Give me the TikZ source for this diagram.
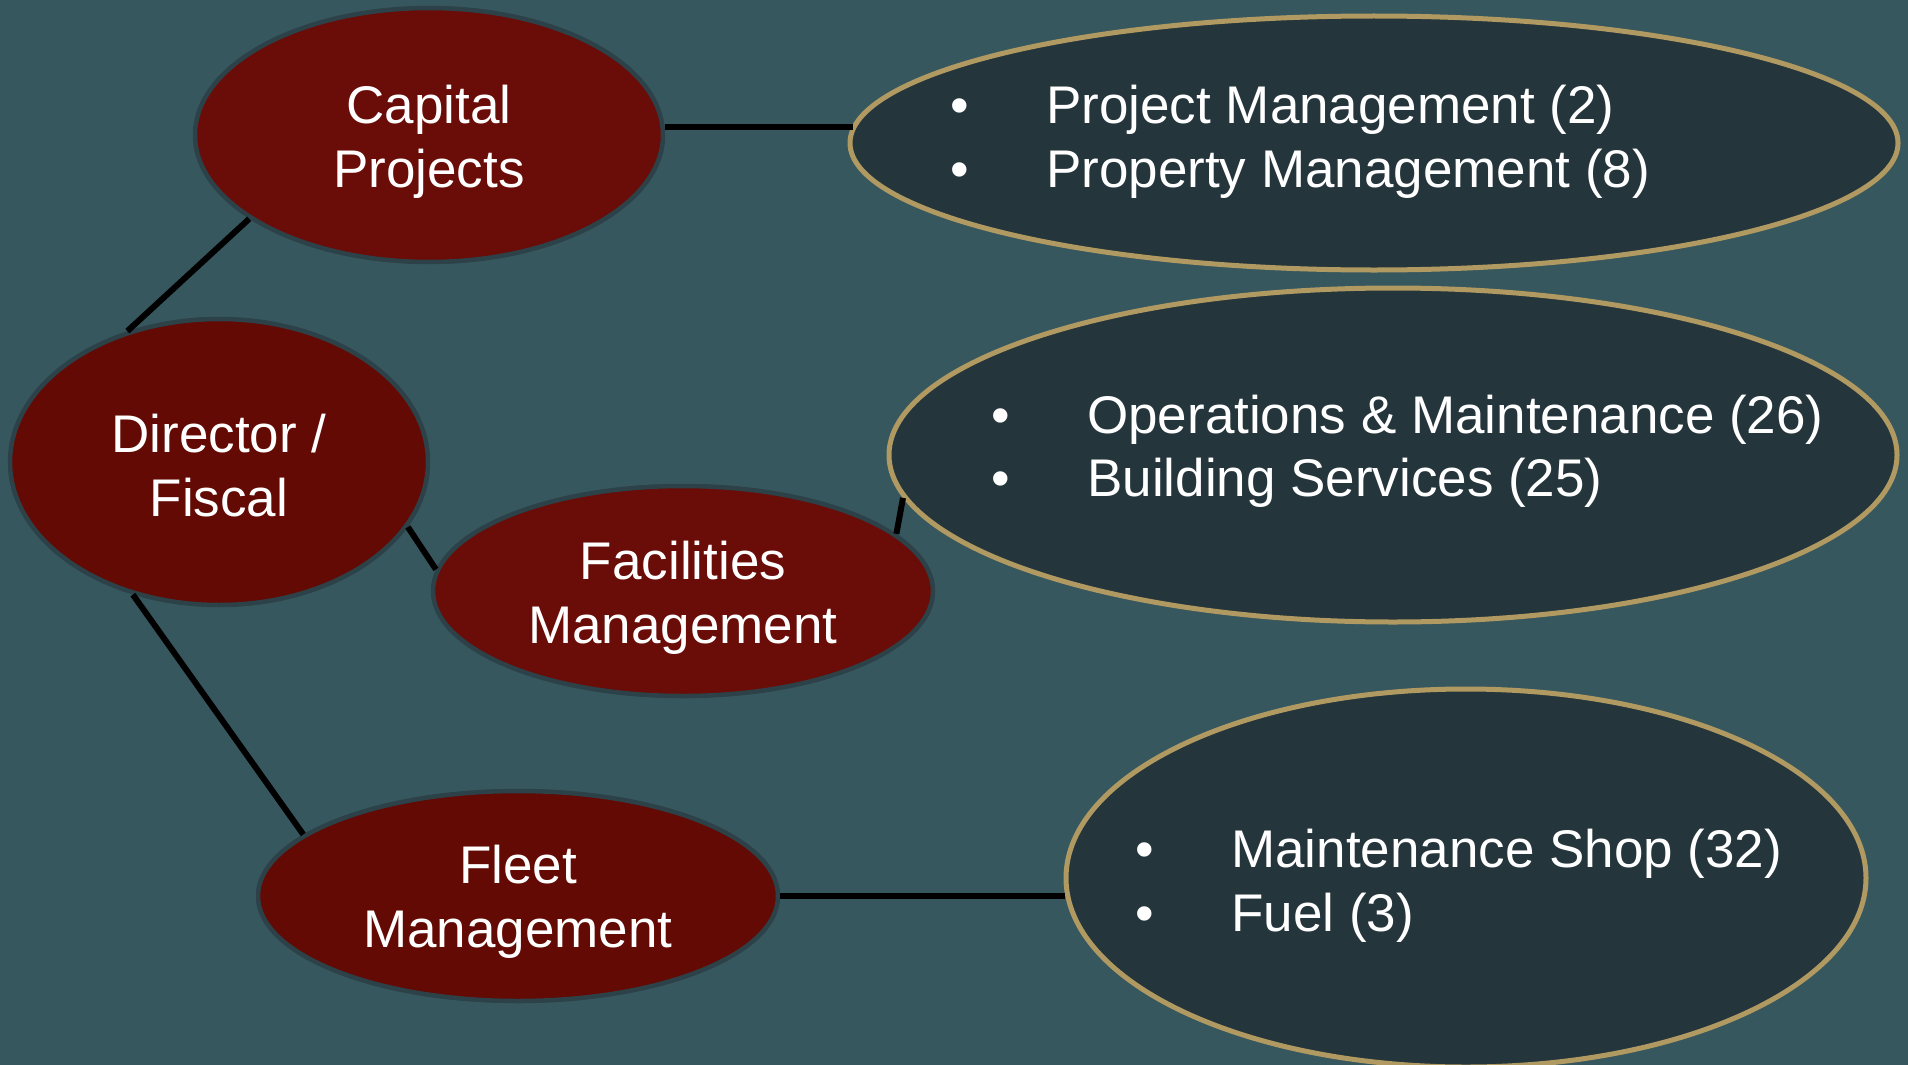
\documentclass[tikz,border=0pt]{standalone}
\usepackage{fontspec}
\setmainfont{Liberation Sans}
\usetikzlibrary{shapes.geometric}
\definecolor{bg}{HTML}{37575E}
\definecolor{redA}{HTML}{6A0C07}
\definecolor{redB}{HTML}{620A03}
\definecolor{redborder}{HTML}{2C4148}
\definecolor{darkfill}{HTML}{25353C}
\definecolor{gold}{HTML}{B09A62}
\newcommand{\twolines}[3][-8pt]{\raisebox{#1}[\height][\depth]{\begin{tabular}{@{}c@{}}#2\\#3\end{tabular}}}
\begin{document}
\begin{tikzpicture}[x=1pt,y=-1pt,
  unit/.style={ellipse, draw=redborder, line width=4.5pt, text=white, align=center,
    inner sep=0pt, font=\fontsize{53}{64}\selectfont},
  group/.style={ellipse, draw=gold, fill=darkfill, line width=5pt, inner sep=0pt},
  item/.style={anchor=base west, text=white, inner sep=0pt, font=\fontsize{53}{64}\selectfont},
  link/.style={draw=black, line width=6pt}]
\fill[bg] (0,0) rectangle (1908,1065);
\useasboundingbox (0,0) rectangle (1908,1065);
% left units
\node[unit, fill=redB, minimum width=418pt, minimum height=286pt] (dir) at (219,462) {\twolines[-10pt]{Director /}{Fiscal}};
\node[unit, fill=redA, minimum width=468pt, minimum height=254pt] (cap) at (429,135) {\twolines{Capital}{Projects}};
\node[unit, fill=redA, minimum width=500pt, minimum height=210pt] (fac) at (683,591) {\twolines{Facilities}{Management}};
\node[unit, fill=redB, minimum width=520pt, minimum height=210pt] (fle) at (518,896) {\twolines[-7pt]{Fleet}{Management}};
% right groups
\node[group, minimum width=1048pt, minimum height=254pt] (g1) at (1374,143) {};
\node[group, minimum width=1008pt, minimum height=334pt] (g2) at (1393,455) {};
\node[group, minimum width=800pt, minimum height=378pt] (g3) at (1466,878) {};
% list items
\node[item] (i1a) at (950,123) {\makebox[96pt][l]{•}Project Management (2)};
\node[item] (i1b) at (950,187) {\makebox[96pt][l]{•}Property Management (8)};
\node[item] (i2a) at (991,433) {\makebox[96pt][l]{•}Operations \& Maintenance (26)};
\node[item] (i2b) at (991,496) {\makebox[96pt][l]{•}Building Services (25)};
\node[item] (i3a) at (1135,867) {\makebox[96pt][l]{•}Maintenance Shop (32)};
\node[item] (i3b) at (1135,931) {\makebox[96pt][l]{•}Fuel (3)};
% connectors
\draw[link] (dir.125.7) -- (cap.205.9);
\draw[link] (dir.-19.5) -- (fac.175.6);
\draw[link] (dir.237.3) -- (fle.164.2);
\draw[link] (cap.2.2) -- (g1.178 |- cap.2.2);
\draw[link] (fac.15.6) -- (g2.185.2);
\draw[link] (fle.east) -- (g3.182.6 |- fle.east);
\end{tikzpicture}
\end{document}
